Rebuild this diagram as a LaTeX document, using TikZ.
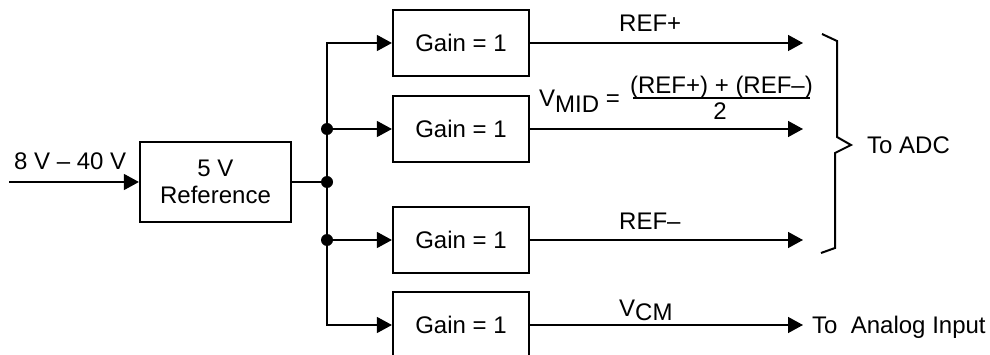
\documentclass[tikz,border=0pt]{standalone}
\usepackage{fontspec}
\setmainfont{Liberation Sans}
\usetikzlibrary{arrows.meta}
\begin{document}
\begin{tikzpicture}[x=1pt,y=-1pt,
  font=\fontsize{24}{27}\selectfont,
  blk/.style={draw, line width=2.2pt, minimum width=136pt, minimum height=66pt, inner sep=0pt, align=center},
  wire/.style={line width=1.4pt},
  arr/.style={wire, -{Triangle[length=15pt,width=16pt]}},
  jdot/.style={circle, fill, inner sep=0pt, minimum size=12pt},
  lbl/.style={inner sep=0pt}]
\useasboundingbox (0,0) rectangle (990,355);
% blocks
\node[blk, minimum width=151pt, minimum height=80pt] (ref) at (215.5,182) {5 V\\Reference};
\node[blk] (g1) at (461,43) {Gain = 1};
\node[blk] (g2) at (461,129) {Gain = 1};
\node[blk] (g3) at (461,240) {Gain = 1};
\node[blk] (g4) at (461,325) {Gain = 1};
% input
\coordinate (in) at (9,182);
\draw[arr] (in) -- (ref.west);
\node[lbl, anchor=base west] (inl) at (14,170) {8 V – 40 V};
% bus
\coordinate (bt) at (327,43);
\coordinate (bb) at (327,325);
\node[jdot] (d0) at (327,182) {};
\node[jdot] (d1) at (327,129) {};
\node[jdot] (d2) at (327,240) {};
\draw[wire] (ref.east) -- (d0.center);
\draw[wire, line cap=rect] (bt) -- (bb);
\draw[arr] (bt) -- (g1.west);
\draw[arr] (d1.center) -- (g2.west);
\draw[arr] (d2.center) -- (g3.west);
\draw[arr] (bb) -- (g4.west);
% outputs
\coordinate (o1) at (803,43);
\coordinate (o2) at (803,129);
\coordinate (o3) at (803,240);
\coordinate (o4) at (803,325);
\draw[arr] (g1.east) -- (o1);
\draw[arr] (g2.east) -- (o2);
\draw[arr] (g3.east) -- (o3);
\draw[arr] (g4.east) -- (o4);
% labels
\node[lbl, anchor=base west] (lref1) at (619,32) {REF+};
\node[lbl, anchor=base west] (lref2) at (619,230) {REF–};
\node[lbl, anchor=base west] (lvcm) at (619,316) {V\raisebox{-5pt}{CM}};
\node[lbl, anchor=base west] (lvmid) at (539,107) {V\raisebox{-6pt}{MID} =};
\node[lbl, anchor=base] (num) at (721.5,94) {(REF+) + (REF–)};
\coordinate (fb1) at (633,98);
\coordinate (fb2) at (810,98);
\draw[wire] (fb1) -- (fb2);
\node[lbl, anchor=base] (den) at (720,120) {2};
\node[lbl, anchor=base west] (adc) at (867,154) {To ADC};
\node[lbl, anchor=base west] (ana) at (812,333) {To\ \ Analog Input};
% brace
\draw[line width=2pt, line join=miter] (822,34) -- (837,41) -- (837,137) -- (851,145) -- (835,153) -- (835,248) -- (821,253);
\end{tikzpicture}
\end{document}
